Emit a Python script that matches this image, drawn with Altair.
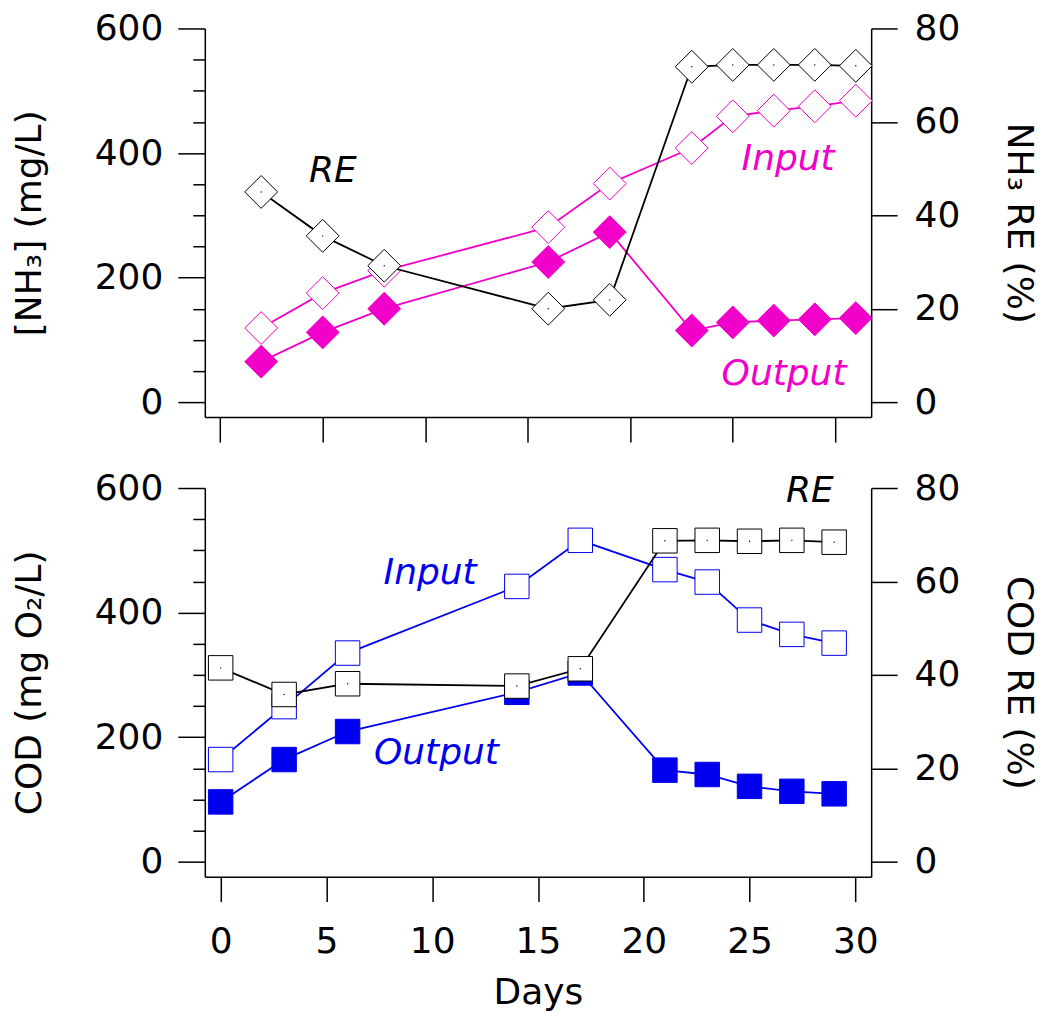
import altair as alt
import pandas as pd

# ---------------- data ----------------
# Top panel: NH3 (days as plotted on the upper axis)
nh3_days = [2, 5, 8, 16, 19, 23, 25, 27, 29, 31]
nh3_input = [119, 175, 211, 281, 351, 408, 459, 468, 475, 484]
nh3_output = [65, 112, 150, 225, 273, 115, 128, 131, 133, 135]
nh3_re = [45.0, 35.6, 29.2, 20.0, 21.9, 71.8, 72.2, 72.2, 72.2, 72.0]

# Bottom panel: COD
cod_days = [0, 3, 6, 14, 17, 21, 23, 25, 27, 29]
cod_input = [164, 249, 335, 442, 516, 469, 449, 388, 365, 351]
cod_output = [96, 164, 209, 272, 303, 147, 140, 121, 113, 109]
cod_re = [41.5, 35.8, 38.1, 37.6, 41.3, 68.7, 68.8, 68.6, 68.8, 68.4]

# In-plot annotations (left-axis units)
nh3_label_text = ["RE", "Input", "Output"]
nh3_label_day = [5.5, 27.7, 27.5]
nh3_label_val = [353, 373, 27]
nh3_label_color = ["black", "#F000C8", "#F000C8"]

cod_label_text = ["Input", "Output", "RE"]
cod_label_day = [9.9, 10.2, 27.85]
cod_label_val = [446, 157, 578]
cod_label_color = ["#0000EE", "#0000EE", "black"]

x_ticks = [0, 5, 10, 15, 20, 25, 30]
left_ticks = list(range(0, 601, 50))
right_ticks = [0, 20, 40, 60, 80]

FONT = "DejaVu Sans"
FS = 36
W, H = 667, 389


def panel(days, inp, out, re, color, shape, size, x_domain, show_x,
          left_title, right_title, lab_text, lab_day, lab_val, lab_color):
    df = pd.DataFrame({"day": days, "input": inp, "output": out, "re": re})
    lab = pd.DataFrame({"text": lab_text, "day": lab_day, "value": lab_val,
                        "color": lab_color})

    x_axis = alt.Axis(values=x_ticks, labels=show_x, tickSize=25,
                      labelPadding=23, title="Days" if show_x else None,
                      titlePadding=16, grid=False)
    xs = alt.Scale(domain=x_domain, nice=False, zero=False)

    def X(f):
        return alt.X(f, scale=xs, axis=x_axis)

    left_axis = alt.Axis(
        values=left_ticks,
        labelExpr="datum.value % 200 === 0 ? datum.label : ''",
        tickSize={"condition": {"test": "datum.value % 200 === 0", "value": 27},
                  "value": 12},
        labelPadding=15, title=left_title, titlePadding=46, grid=False)
    ys = alt.Scale(domain=[-24, 600], nice=False, zero=False)

    def YL(f):
        return alt.Y(f, scale=ys, axis=left_axis)

    right_axis = alt.Axis(values=right_ticks, orient="right", tickSize=26,
                          labelPadding=17, title=right_title, titlePadding=40,
                          grid=False)
    rs = alt.Scale(domain=[-3.2, 80], nice=False, zero=False)

    base = alt.Chart(df)
    left = alt.layer(
        base.mark_line(color=color, strokeWidth=1.8).encode(x=X("day:Q"), y=YL("input:Q")),
        base.mark_line(color=color, strokeWidth=1.8).encode(x=X("day:Q"), y=YL("output:Q")),
        base.mark_point(shape=shape, filled=True, fill="white", stroke=color,
                        strokeWidth=1, size=size, opacity=1).encode(
            x=X("day:Q"), y=YL("input:Q")),
        base.mark_point(shape=shape, filled=True, fill=color, stroke=color,
                        strokeWidth=1, size=size, opacity=1).encode(
            x=X("day:Q"), y=YL("output:Q")),
        alt.Chart(lab).mark_text(font=FONT, fontSize=FS, fontStyle="italic",
                                 align="center", baseline="alphabetic").encode(
            x=X("day:Q"), y=YL("value:Q"), text="text:N",
            color=alt.Color("color:N", scale=None)),
    )
    right = alt.layer(
        base.mark_line(color="black", strokeWidth=1.8).encode(
            x=X("day:Q"), y=alt.Y("re:Q", scale=rs, axis=right_axis)),
        base.mark_point(shape=shape, filled=True, fill="white", stroke="black",
                        strokeWidth=1, size=size, opacity=1).encode(
            x=X("day:Q"), y=alt.Y("re:Q", scale=rs, axis=right_axis)),
        base.mark_point(shape="circle", filled=True, color="black", size=2,
                        opacity=1).encode(
            x=X("day:Q"), y=alt.Y("re:Q", scale=rs, axis=right_axis)),
    )
    return alt.layer(left, right).resolve_scale(y="independent").properties(
        width=W, height=H)


top = panel(nh3_days, nh3_input, nh3_output, nh3_re, "#F000C8", "diamond", 1080,
            [-0.75, 31.75], False, "[NH₃] (mg/L)", "NH₃ RE (%)",
            nh3_label_text, nh3_label_day, nh3_label_val, nh3_label_color)
bottom = panel(cod_days, cod_input, cod_output, cod_re, "#0000EE", "square", 600,
               [-0.75, 30.75], True, "COD (mg O₂/L)", "COD RE (%)",
               cod_label_text, cod_label_day, cod_label_val, cod_label_color)

chart = alt.vconcat(top, bottom, spacing=27).resolve_scale(x="independent").properties(
    padding={"left": 11, "top": 10, "right": 5, "bottom": 5},
    background="white",
).configure_view(stroke=None).configure_axis(
    labelFont=FONT, labelFontSize=FS, titleFont=FONT, titleFontSize=FS,
    titleFontWeight="normal", labelColor="black", titleColor="black",
    domainColor="black", tickColor="black", domainWidth=1.5, tickWidth=1.5,
)

chart.save("out.html", embed_options={"renderer": "svg", "actions": False})
